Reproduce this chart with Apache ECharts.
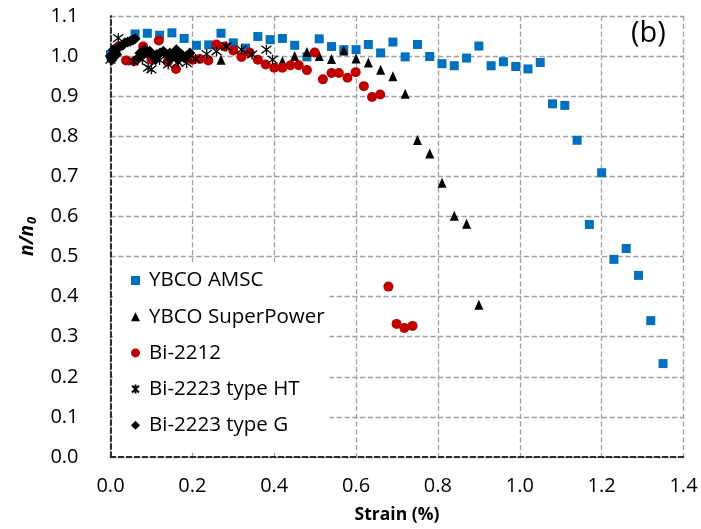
<!DOCTYPE html>
<html>
<head>
<meta charset="utf-8">
<script src="https://cdn.jsdelivr.net/npm/echarts@6/dist/echarts.min.js"></script>
<style>html,body{margin:0;padding:0;background:#fff}#c{width:701px;height:529px}</style>
</head>
<body>
<div id="c"></div>
<script>
// ---- axis settings ----
const xMin = 0, xMax = 1.4, xStep = 0.2;
const yMin = 0, yMax = 1.1, yStep = 0.1;
const xTitle = 'Strain (%)';
const panelLabel = '(b)';
const seriesNames = ['YBCO AMSC', 'YBCO SuperPower', 'Bi-2212', 'Bi-2223 type HT', 'Bi-2223 type G'];

// ---- YBCO AMSC ----
const amscStrain = [0.00,0.06,0.09,0.12,0.15,0.18,0.21,0.24,0.27,0.30,0.33,0.36,0.39,0.42,0.45,0.48,0.51,0.54,0.57,0.60,0.63,0.66,0.69,0.72,0.75,0.78,0.81,0.84,0.87,0.90,0.93,0.96,0.99,1.02,1.05,1.08,1.11,1.14,1.17,1.20,1.23,1.26,1.29,1.32,1.35];
const amscN      = [1.004,1.055,1.057,1.052,1.058,1.044,1.027,1.028,1.057,1.033,1.020,1.049,1.041,1.044,1.027,0.998,1.043,1.024,1.016,1.016,1.029,1.008,1.035,0.998,1.029,0.999,0.981,0.976,0.995,1.025,0.976,0.986,0.974,0.968,0.984,0.881,0.877,0.790,0.580,0.709,0.493,0.520,0.453,0.340,0.233];

// ---- YBCO SuperPower ----
const spStrain = [0.27,0.42,0.45,0.48,0.51,0.54,0.57,0.60,0.63,0.66,0.69,0.72,0.75,0.78,0.81,0.84,0.87,0.90];
const spN      = [0.991,0.987,1.000,1.010,1.000,0.993,1.014,0.994,0.984,0.966,0.950,0.906,0.791,0.757,0.684,0.602,0.582,0.380];

// ---- Bi-2212 ----
const b2212Strain = [0.019,0.038,0.058,0.080,0.100,0.118,0.140,0.160,0.200,0.218,0.239,0.259,0.279,0.300,0.320,0.340,0.360,0.379,0.400,0.420,0.440,0.460,0.480,0.499,0.519,0.540,0.558,0.579,0.599,0.619,0.639,0.659,0.679,0.699,0.718,0.738];
const b2212N      = [1.024,0.989,0.987,1.024,0.991,1.039,0.986,0.968,0.991,0.993,0.989,1.029,1.024,1.014,0.998,1.009,0.991,0.979,0.971,0.971,0.977,0.977,0.965,1.009,0.942,0.958,0.958,0.946,0.960,0.925,0.898,0.904,0.425,0.332,0.322,0.327];

// ---- Bi-2223 type HT ----
const htStrain = [0.000,0.019,0.056,0.078,0.092,0.100,0.120,0.141,0.165,0.186,0.208,0.235,0.259,0.283,0.320,0.346,0.381,0.396];
const htN      = [0.991,1.045,0.987,0.991,0.971,0.967,0.990,0.979,0.985,0.983,0.993,1.005,1.012,1.024,1.016,1.004,1.016,0.991];

// ---- Bi-2223 type G ----
const gStrain = [0.000,0.003,0.007,0.012,0.015,0.023,0.030,0.035,0.042,0.048,0.055,0.060,0.068,0.072,0.078,0.084,0.090,0.096,0.104,0.110,0.113,0.121,0.129,0.137,0.145,0.145,0.153,0.161,0.165,0.174,0.180,0.186,0.194];
const gN      = [1.000,0.990,1.016,1.008,1.004,1.024,1.027,1.033,1.035,1.037,1.040,1.043,0.996,1.008,1.004,1.016,1.008,1.012,1.000,0.991,1.004,1.008,1.012,1.004,1.008,0.996,1.000,1.016,0.991,1.004,0.996,1.000,1.008];

const zip = (a, b) => a.map((v, i) => [v, b[i]]);
const FONT = 'Open Sans';
const asteriskPath = 'path://M0,0L10,10M10,0L0,10M5,-1.5L5,11.5';

const chart = echarts.init(document.getElementById('c'), null, {renderer: 'canvas'});
const gridDash = () => ({show: true, lineStyle: {color: '#a0a0a0', width: 1.3, type: 'dashed', opacity: 1}});
const borderLine = () => ({show: true, lineStyle: {color: '#222', width: 1.5, type: [5, 3]}});
const hiddenTick = () => ({show: true, inside: true, length: 1, lineStyle: {color: 'rgba(0,0,0,0)'}});

chart.setOption({
  animation: false,
  backgroundColor: '#fff',
  textStyle: {fontFamily: FONT},
  title: {
    text: panelLabel, left: 626, top: 14,
    textStyle: {fontFamily: FONT, fontSize: 29, fontWeight: 'normal', color: '#000'}
  },
  grid: {left: 110.5, right: 17.5, top: 16, bottom: 70.5, containLabel: false},
  xAxis: [{
    type: 'value', min: xMin, max: xMax, interval: xStep,
    name: xTitle, nameLocation: 'middle', nameGap: 49,
    nameTextStyle: {fontFamily: FONT, fontSize: 17.5, fontWeight: 'bold', color: '#000'},
    axisLine: borderLine(), axisTick: hiddenTick(),
    axisLabel: {fontFamily: FONT, fontSize: 20, color: '#000', margin: 19, formatter: v => v.toFixed(1)},
    splitLine: gridDash()
  }, {
    type: 'value', min: xMin, max: xMax, interval: xStep, position: 'top',
    axisLine: borderLine(), axisTick: {show: false}, axisLabel: {show: false}, splitLine: {show: false}
  }],
  yAxis: [{
    type: 'value', min: yMin, max: yMax, interval: yStep,
    name: '{a|n/n}{b|0}', nameLocation: 'middle', nameGap: 72, nameRotate: 90,
    nameTextStyle: {
      rich: {
        a: {fontFamily: FONT, fontSize: 19, fontWeight: 'bold', fontStyle: 'italic', color: '#000'},
        b: {fontFamily: FONT, fontSize: 13, fontWeight: 'bold', fontStyle: 'italic', color: '#000', padding: [9, 0, 0, 1]}
      }
    },
    axisLine: borderLine(), axisTick: hiddenTick(),
    axisLabel: {fontFamily: FONT, fontSize: 20, color: '#000', margin: 32, formatter: v => v.toFixed(1)},
    splitLine: gridDash()
  }, {
    type: 'value', min: yMin, max: yMax, interval: yStep, position: 'right',
    axisLine: borderLine(), axisTick: {show: false}, axisLabel: {show: false}, splitLine: {show: false}
  }],
  legend: {
    orient: 'vertical', left: 113, top: 262,
    backgroundColor: '#fff',
    padding: [8, 5, 16, 18],
    itemGap: 15.2, itemWidth: 9, itemHeight: 9,
    textStyle: {fontFamily: FONT, fontSize: 20.5, color: '#000', padding: [0, 0, 0, 4]},
    data: seriesNames
  },
  series: [
    {name: seriesNames[0], type: 'scatter', symbol: 'rect', symbolSize: 9,
     itemStyle: {color: '#0070C0', opacity: 1}, data: zip(amscStrain, amscN), z: 3},
    {name: seriesNames[1], type: 'scatter', symbol: 'triangle', symbolSize: [9, 10],
     itemStyle: {color: '#000', opacity: 1}, data: zip(spStrain, spN), z: 4},
    {name: seriesNames[2], type: 'scatter', symbol: 'circle', symbolSize: 10,
     itemStyle: {color: '#C00000', opacity: 1}, data: zip(b2212Strain, b2212N), z: 5},
    {name: seriesNames[3], type: 'scatter', symbol: asteriskPath, symbolSize: 10,
     itemStyle: {color: 'rgba(0,0,0,0)', borderColor: '#000', borderWidth: 1.3, opacity: 1}, data: zip(htStrain, htN), z: 6},
    {name: seriesNames[4], type: 'scatter', symbol: 'diamond', symbolSize: 11,
     itemStyle: {color: '#000', opacity: 1}, data: zip(gStrain, gN), z: 7}
  ]
});
</script>
</body>
</html>
